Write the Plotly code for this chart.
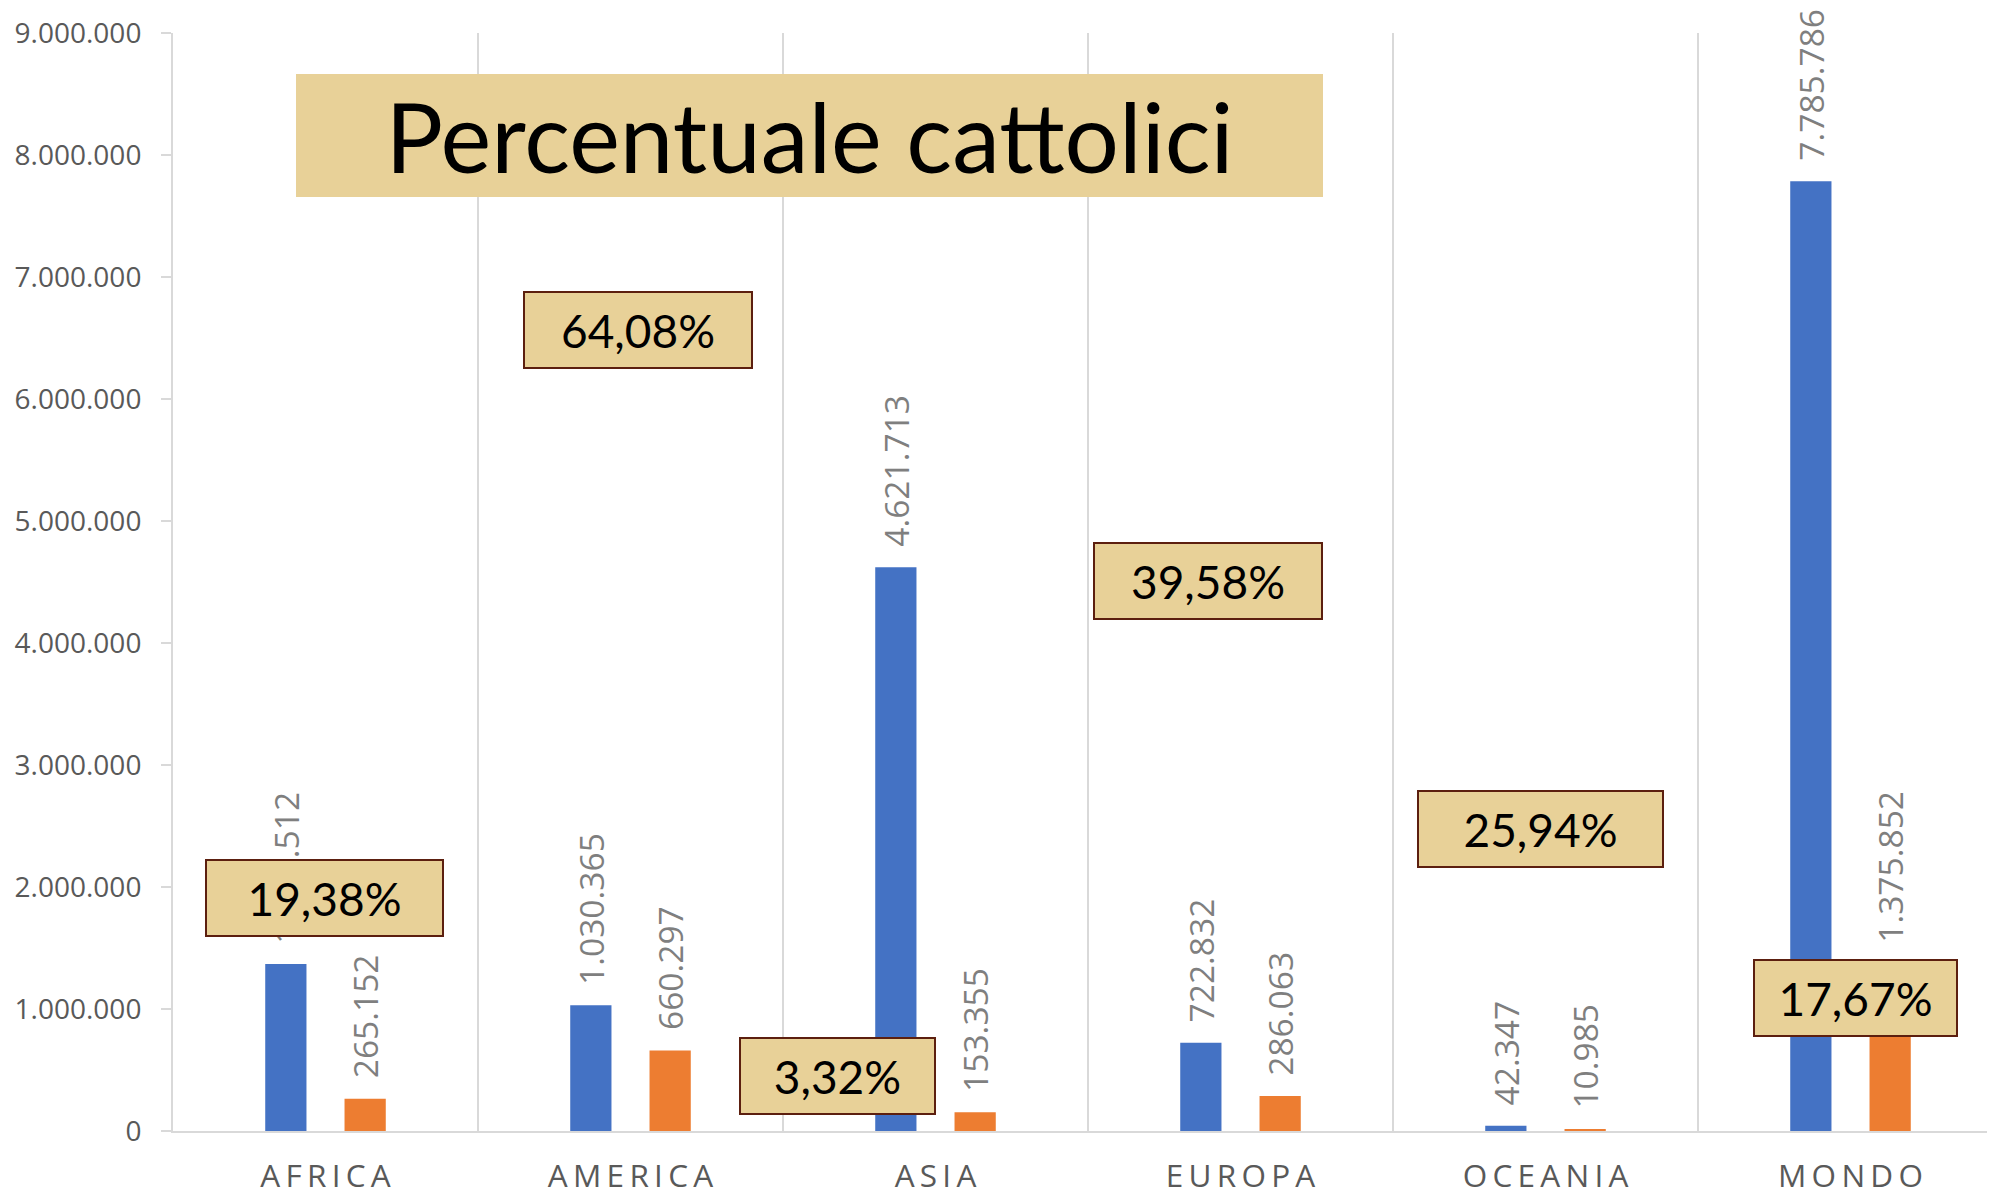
import plotly.graph_objects as go

# dati (migliaia di abitanti)
continenti = ["AFRICA", "AMERICA", "ASIA", "EUROPA", "OCEANIA", "MONDO"]
popolazione = [1368512, 1030365, 4621713, 722832, 42347, 7785786]
cattolici = [265152, 660297, 153355, 286063, 10985, 1375852]

BLU = "#4472c4"
ARANCIO = "#ed7d31"
GRIGIO_LINEE = "#d9d9d9"
CARTA = "#e8d198"
BORDO = "#5c1f0f"

# la pagina ha un margine di 8px attorno alla figura
OFF = 8
W, H = 1995 - OFF, 1196 - OFF
L, R, T, B = 173 - OFF, 0, 33 - OFF, 65
PW, PH = W - L - R, H - T - B


def spaziato(s):
    """lettere distanziate come nell'originale"""
    return "\u2006".join(s)


def etichetta(v):
    return "\u00a0\u00a0" + f"{v:,}".replace(",", ".")


def px_x(x):
    return (x - OFF - L) / PW


def px_y(y):
    return (H - B - (y - OFF)) / PH


fig = go.Figure()
for nome, valori, colore in [("Popolazione", popolazione, BLU),
                             ("Cattolici", cattolici, ARANCIO)]:
    fig.add_trace(go.Bar(
        x=continenti,
        y=valori,
        name=nome,
        marker=dict(color=colore, line=dict(width=0)),
        text=[etichetta(v) for v in valori],
        textposition="outside",
        textangle=-90,
        constraintext="none",
        cliponaxis=False,
        textfont=dict(family="Open Sans", size=33.5, color="#7f7f7f"),
    ))

# riquadri percentuali: (centro x px, centro y px, larghezza px)
riquadri = [(324, 898, 239), (638, 330, 230), (837, 1076, 197),
            (1208, 581, 230), (1540, 829, 247), (1855, 998, 205)]

annotazioni = [dict(
    text="Percentuale cattolici",
    xref="paper", yref="paper",
    x=px_x(809.5), y=px_y(135.5),
    xanchor="center", yanchor="middle",
    showarrow=False, width=1027, height=123,
    bgcolor=CARTA, borderwidth=0, borderpad=0,
    font=dict(family="Lato", size=96, color="#000000"),
)]
for (cx, cy, w), pop, cat in zip(riquadri, popolazione, cattolici):
    perc = f"{cat / pop * 100:.2f}".replace(".", ",") + "%"
    annotazioni.append(dict(
        text=perc,
        xref="paper", yref="paper",
        x=px_x(cx), y=px_y(cy),
        xanchor="center", yanchor="middle",
        showarrow=False, width=w - 4, height=74,
        bgcolor=CARTA, bordercolor=BORDO, borderwidth=2, borderpad=0,
        font=dict(family="Lato", size=46, color="#000000"),
    ))

fig.update_layout(
    width=W, height=H,
    margin=dict(l=L, r=R, t=T, b=B, autoexpand=False),
    paper_bgcolor="white",
    plot_bgcolor="white",
    barmode="group",
    bargap=0.48,
    bargroupgap=0.48,
    showlegend=False,
    separators=",.",
    annotations=annotazioni,
)
fig.update_xaxes(
    range=[-0.5, 5.5 - 8 / 305],
    tickvals=continenti,
    ticktext=[spaziato(c) for c in continenti],
    tickson="boundaries",
    ticks="",
    ticklabelstandoff=16,
    showgrid=True, gridcolor=GRIGIO_LINEE, gridwidth=2,
    showline=True, linecolor=GRIGIO_LINEE, linewidth=2,
    tickfont=dict(family="Open Sans", size=31.5, color="#595959"),
    automargin=False,
)
fig.update_yaxes(
    range=[0, 9000000],
    dtick=1000000,
    tickformat=",d",
    ticks="outside", ticklen=10, tickwidth=2, tickcolor=GRIGIO_LINEE,
    ticklabelstandoff=14,
    showgrid=False, zeroline=False,
    showline=True, linecolor=GRIGIO_LINEE, linewidth=2,
    tickfont=dict(family="Open Sans", size=28, color="#595959"),
    automargin=False,
)

fig.write_html("out.html")
